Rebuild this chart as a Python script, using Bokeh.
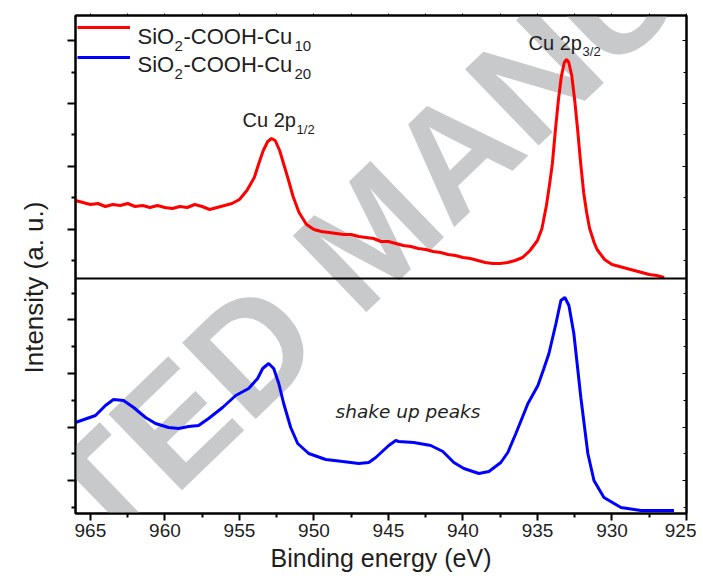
import math
from bokeh.plotting import figure
from bokeh.models import Range1d, LinearAxis, FixedTicker, Span, Label, Legend, LegendItem, Title
from bokeh.core.properties import value
from bokeh.embed import file_html
from bokeh.resources import INLINE

# ---------------- data (arbitrary intensity units) -------------
# upper panel: SiO2-COOH-Cu10 (red)
cu10_energy = [966.0, 965.5, 965.0, 964.5, 964.0, 963.5, 963.0, 962.5, 962.0, 961.5,
               961.0, 960.5, 960.0, 959.5, 959.0, 958.5, 958.0, 957.5, 957.0, 956.5,
               956.0, 955.5, 955.0, 954.5, 954.0, 953.7, 953.4, 953.1, 952.85, 952.6,
               952.3, 952.0, 951.7, 951.4, 951.0, 950.5, 950.0, 949.5, 949.0, 948.5,
               948.0, 947.5, 947.0, 946.5, 946.0, 945.5, 945.0, 944.5, 944.0, 943.5,
               943.0, 942.5, 942.0, 941.5, 941.0, 940.5, 940.0, 939.5, 939.0, 938.5,
               938.0, 937.5, 937.0, 936.5, 936.0, 935.5, 935.0, 934.7, 934.4, 934.2,
               934.0, 933.8, 933.6, 933.4, 933.2, 933.05, 932.9, 932.7, 932.5, 932.3,
               932.1, 931.9, 931.7, 931.5, 931.2, 931.0, 930.5, 930.0, 929.5, 929.0,
               928.5, 928.0, 927.5, 927.0, 926.5]
cu10_intensity = [60, 58, 56, 57, 54, 56, 55, 57, 54, 55,
                  53, 55, 53, 52, 54, 53, 56, 54, 51, 53,
                  55, 57, 61, 70, 83, 97, 110, 119, 122, 120,
                  110, 95, 80, 64, 48, 36, 31, 29, 28, 27,
                  26, 26, 24, 23, 22, 19, 19, 17, 15, 14,
                  12, 11, 9, 8, 6, 5, 3, 2, 0, -2,
                  -3, -3, -2, 0, 3, 10, 20, 32, 55, 75,
                  97, 130, 160, 184, 198, 201, 198, 185, 160, 130,
                  97, 68, 48, 32, 18, 11, 1, -4, -6, -8,
                  -10, -12, -14, -15, -17]

# lower panel: SiO2-COOH-Cu20 (blue)
cu20_energy = [966.0, 964.66, 963.99, 963.45, 962.78, 962.10, 961.30, 960.63, 959.75, 959.08,
               958.41, 957.74, 957.07, 956.13, 955.25, 954.38, 953.78, 953.44, 953.04, 952.70,
               952.36, 952.03, 951.56, 951.09, 950.35, 949.21, 948.07, 946.99, 946.32, 945.85,
               944.98, 944.51, 944.31, 943.30, 942.16, 941.35, 940.61, 939.94, 938.93, 938.26,
               937.46, 936.99, 936.45, 935.64, 934.97, 934.57, 934.23, 933.76, 933.43, 933.16,
               932.89, 932.56, 932.09, 931.62, 931.21, 930.54, 929.40, 928.06, 926.71, 925.84]
cu20_intensity = [85, 92, 102, 108, 107, 100, 90, 84, 80, 79,
                  81, 82, 89, 100, 112, 119, 129, 139, 144, 139,
                  124, 104, 80, 64, 54, 48, 46, 44, 45, 50,
                  62, 67, 66, 65, 62, 56, 45, 39, 34, 36,
                  45, 55, 74, 104, 122, 139, 154, 184, 207, 210,
                  202, 174, 110, 54, 27, 10, 0, -3, -3, -3]

legend_main = "SiO"
legend_sub_first = "2"
legend_rest = "-COOH-Cu"
legend_subs = ["10", "20"]

x_major_ticks = [965, 960, 955, 950, 945, 940, 935, 930, 925]
x_minor_ticks = [962.5, 957.5, 952.5, 947.5, 942.5, 937.5, 932.5, 927.5]
x_tick_labels = ["965", "960", "955", "950", "945", "940", "935", "930", "925"]

upper_major = [31.4, 94.2, 157.0, 219.8]
upper_minor = [0.0, 62.8, 125.6, 188.4]
lower_major = [26.8, 80.4, 134.0, 187.6]
lower_minor = [0.0, 53.6, 107.2, 160.8, 214.4]

# ---------------- layout ----------------
FONT = "Liberation Sans"
TXT = "#1e1e1e"
X_START, X_END = 966.0, 925.0
UP_LO, UP_HI = -18.0, 245.0
LO_LO, LO_HI = -6.0, 229.0
FRAME_W, FRAME_H = 611, 498
UP_FRAC = 263.0 / 498.0

up_full = (UP_HI - UP_LO) / UP_FRAC
lo_full = (LO_HI - LO_LO) / (1 - UP_FRAC)
up_start = UP_HI - up_full
lo_end = LO_LO + lo_full


def lower_to_upper(v):
    return up_start + (v - LO_LO) / lo_full * up_full


p = figure(frame_width=FRAME_W, frame_height=FRAME_H,
           x_range=Range1d(X_START, X_END), y_range=Range1d(up_start, UP_HI),
           output_backend="svg", toolbar_location=None,
           min_border_left=75, min_border_top=15, min_border_right=10, min_border_bottom=10,
           background_fill_color="white", border_fill_color="white",
           outline_line_color="black", outline_line_width=2)
p.extra_y_ranges = {"lower": Range1d(LO_LO, lo_end)}
p.grid.visible = False

# bottom axis
xa = p.xaxis[0]
xa.ticker = FixedTicker(ticks=x_major_ticks, minor_ticks=x_minor_ticks)
xa.major_label_overrides = {t: s for t, s in zip(x_major_ticks, x_tick_labels)}
xa.axis_line_width = 2
xa.major_tick_line_width = 2
xa.minor_tick_line_width = 2
xa.major_tick_out = 7
xa.major_tick_in = 0
xa.minor_tick_out = 4
xa.minor_tick_in = 0
xa.major_label_text_font = FONT
xa.major_label_text_font_size = "19px"
xa.major_label_text_color = TXT
xa.major_label_standoff = 3
xa.axis_label = "Binding energy (eV)"
xa.axis_label_text_font = FONT
xa.axis_label_text_font_size = "25px"
xa.axis_label_text_font_style = "normal"
xa.axis_label_text_color = TXT
xa.axis_label_standoff = 4

# left axis (ticks of both panels)
y_major = upper_major + [lower_to_upper(v) for v in lower_major]
y_minor = upper_minor + [lower_to_upper(v) for v in lower_minor]
ya = p.yaxis[0]
ya.ticker = FixedTicker(ticks=y_major, minor_ticks=y_minor)
ya.axis_line_width = 2
ya.major_tick_line_width = 2
ya.minor_tick_line_width = 2
ya.major_tick_out = 8
ya.major_tick_in = 0
ya.minor_tick_out = 4
ya.minor_tick_in = 0
ya.major_label_text_font_size = "0px"
ya.major_label_text_color = None

# top axis
top = LinearAxis(ticker=FixedTicker(ticks=x_major_ticks, minor_ticks=x_minor_ticks),
                 major_tick_out=2, major_tick_in=0, minor_tick_out=2, minor_tick_in=0,
                 major_label_text_font_size="0px", major_label_text_color=None,
                 axis_line_width=2, major_tick_line_width=1, minor_tick_line_width=1)
p.add_layout(top, "above")

# right axis
right = LinearAxis(ticker=FixedTicker(ticks=y_major, minor_ticks=y_minor),
                   major_tick_out=0, major_tick_in=4, minor_tick_out=0, minor_tick_in=3,
                   major_label_text_font_size="0px", major_label_text_color=None,
                   axis_line_width=2, major_tick_line_width=1, minor_tick_line_width=1)
p.add_layout(right, "right")

# y axis title (vertical, reading upwards, starting 140 px above the frame bottom)
p.add_layout(Title(text="Intensity (a. u.)", align="left", offset=140,
                   vertical_align="middle", text_font=FONT, text_font_size="26px",
                   text_font_style="normal", text_color=TXT, standoff=35), "left")

# divider between the panels
p.add_layout(Span(location=UP_LO, dimension="width", line_color="black", line_width=2))

# watermark (screen units relative to the frame)
p.add_layout(Label(x=296, y=280, x_units="screen", y_units="screen",
                   text="ACCEPTED MANUSCRIPT", angle=math.radians(44),
                   text_align="center", text_baseline="middle", text_font=FONT,
                   text_font_style="bold", text_font_size="154px", text_color="#c8c9cb",
                   level="underlay"))

# curves
r_red = p.line(cu10_energy, cu10_intensity, line_color="#ff0000", line_width=3)
r_blue = p.line(cu20_energy, cu20_intensity, y_range_name="lower",
                line_color="#0000ff", line_width=3)

# legend samples
leg = Legend(items=[LegendItem(label=value(" "), renderers=[r_red]),
                    LegendItem(label=value(" "), renderers=[r_blue])],
             location=(2, 441), glyph_width=53, glyph_height=30, label_height=30,
             label_width=0, label_standoff=0, spacing=0, padding=0, margin=0,
             border_line_color=None, background_fill_alpha=0,
             label_text_font_size="1px")
p.add_layout(leg)


def add_text(x, y, text, size, dx=0, style="normal", y_range_name="default", font=FONT):
    p.add_layout(Label(x=x, y=y, x_offset=dx, text=text, text_font=font,
                       text_font_size=size, text_font_style=style, text_color=TXT,
                       text_align="left", text_baseline="alphabetic",
                       y_range_name=y_range_name))


# legend texts
LEG_X = 961.84
for base_y, sub in zip([224.5, 196.0], legend_subs):
    add_text(LEG_X, base_y, legend_main, "22px")
    add_text(LEG_X, base_y - 9.5, legend_sub_first, "15px", dx=37)
    add_text(LEG_X, base_y, legend_rest, "22px", dx=46)
    add_text(LEG_X, base_y - 9.5, sub, "15px", dx=157)

# peak annotations
add_text(935.60, 218, "Cu 2p", "20px")
add_text(935.60, 209, "3/2", "13px", dx=54)
add_text(954.79, 141, "Cu 2p", "20px")
add_text(954.79, 131, "1/2", "13px", dx=54)
add_text(948.55, 96, "shake up peaks", "18.5px", style="italic",
         y_range_name="lower", font="DejaVu Sans")

open("out.html", "w").write(file_html(p, INLINE))
